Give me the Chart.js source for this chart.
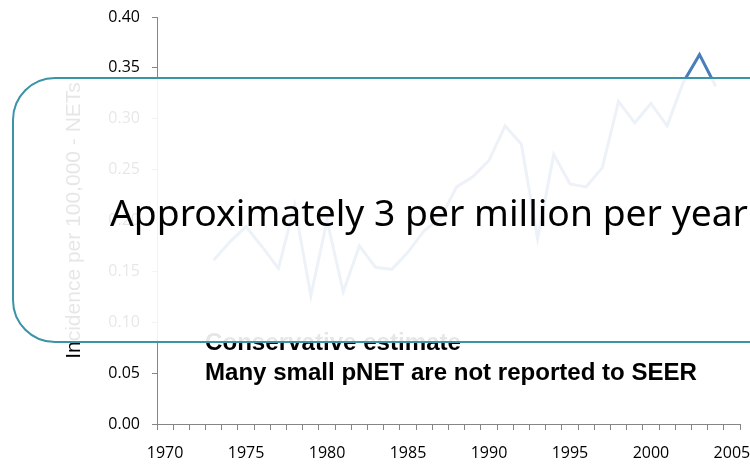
<!DOCTYPE html>
<html><head><meta charset="utf-8">
<script src="https://cdn.jsdelivr.net/npm/chart.js@4/dist/chart.umd.min.js"></script>
<style>html,body{margin:0;padding:0;background:#fff}#wrap{width:750px;height:464px;position:relative}</style>
</head><body><div id="wrap"><canvas id="c" width="750" height="464"></canvas></div>
<script>
const years = ['1970','1971','1972','1973','1974','1975','1976','1977','1978','1979',
  '1980','1981','1982','1983','1984','1985','1986','1987','1988','1989',
  '1990','1991','1992','1993','1994','1995','1996','1997','1998','1999',
  '2000','2001','2002','2003','2004','2005'];
const incidence = [null,null,null,0.161,0.179,0.194,0.174,0.153,0.215,0.126,
  0.200,0.130,0.175,0.154,0.152,0.169,0.190,0.202,0.233,0.243,
  0.259,0.293,0.275,0.182,0.265,0.236,0.233,0.252,0.317,0.296,
  0.315,0.293,0.336,0.363,0.332,null];
const tickYears = ['1970','1975','1980','1985','1990','1995','2000','2005'];
const yTicks = [0,0.05,0.10,0.15,0.20,0.25,0.30,0.35,0.40];
const yTitle = 'Incidence per 100,000 - NETs';
const noteLines = ['Conservative estimate','Many small pNET are not reported to SEER'];
const headline = 'Approximately 3 per million per year';

function fitText(ctx, text, x, y, font, width){
  ctx.save();
  ctx.font = font;
  const w = ctx.measureText(text).width;
  ctx.translate(x, y);
  ctx.scale(width / w, 1);
  ctx.fillText(text, 0, 0);
  ctx.restore();
}

const overlay = {
  id: 'overlay',
  afterDraw(chart){
    const ctx = chart.ctx;
    ctx.save();
    ctx.fillStyle = '#000';
    ctx.textBaseline = 'alphabetic';
    ctx.textAlign = 'left';
    fitText(ctx, noteLines[0], 205, 350, 'bold 23px "Liberation Sans", Arial, sans-serif', 256);
    fitText(ctx, noteLines[1], 205, 380, 'bold 23px "Liberation Sans", Arial, sans-serif', 492);
    // callout box
    const x = 13, y = 78, w = 800, h = 264, r = 42;
    ctx.beginPath();
    ctx.moveTo(x + r, y);
    ctx.lineTo(x + w, y);
    ctx.lineTo(x + w, y + h);
    ctx.lineTo(x + r, y + h);
    ctx.arcTo(x, y + h, x, y + h - r, r);
    ctx.lineTo(x, y + r);
    ctx.arcTo(x, y, x + r, y, r);
    ctx.closePath();
    ctx.fillStyle = 'rgba(255,255,255,0.9)';
    ctx.fill();
    ctx.lineWidth = 2;
    ctx.strokeStyle = '#3a93a6';
    ctx.stroke();
    ctx.fillStyle = '#000';
    fitText(ctx, headline, 110, 226, '36px "Noto Sans", sans-serif', 638);
    ctx.restore();
  }
};

new Chart(document.getElementById('c'), {
  type: 'line',
  data: {
    labels: years,
    datasets: [{
      data: incidence,
      borderColor: '#4a7ebb',
      borderWidth: 3,
      pointRadius: 0,
      tension: 0,
      spanGaps: false,
      fill: false
    }]
  },
  options: {
    responsive: false,
    devicePixelRatio: 1,
    animation: false,
    events: [],
    layout: { padding: { top: 17, right: 10, bottom: 0, left: 0 } },
    plugins: { legend: { display: false }, tooltip: { enabled: false } },
    scales: {
      x: {
        type: 'category',
        offset: true,
        border: { display: true, color: '#868686', width: 1 },
        grid: { display: true, offset: true, drawOnChartArea: false, drawTicks: true, tickLength: 6, color: '#868686' },
        ticks: {
          autoSkip: false, maxRotation: 0, minRotation: 0, padding: 14,
          color: '#000', font: { family: '"Open Sans", sans-serif', size: 16 },
          callback: function(v, i){ return tickYears.includes(years[i]) ? years[i] : ''; }
        },
        afterFit: function(s){ s.height = 40; s.paddingLeft = 0; s.paddingRight = 0; }
      },
      y: {
        min: 0, max: 0.4,
        border: { display: true, color: '#868686', width: 1 },
        grid: { display: true, drawOnChartArea: false, drawTicks: true, tickLength: 5, color: '#868686' },
        afterBuildTicks: function(s){ s.ticks = yTicks.map(v => ({ value: v })); },
        ticks: {
          padding: 12, color: '#000', font: { family: '"Open Sans", sans-serif', size: 16 },
          callback: v => Number(v).toFixed(2)
        },
        title: {
          display: true, text: yTitle, color: '#000',
          font: { family: '"Liberation Sans", Arial, sans-serif', size: 21 },
          padding: { top: 62, bottom: 0 }
        },
        afterFit: function(s){ s.width = 157; s.paddingTop = 0; s.paddingBottom = 0; }
      }
    }
  },
  plugins: [overlay]
});
</script></body></html>
